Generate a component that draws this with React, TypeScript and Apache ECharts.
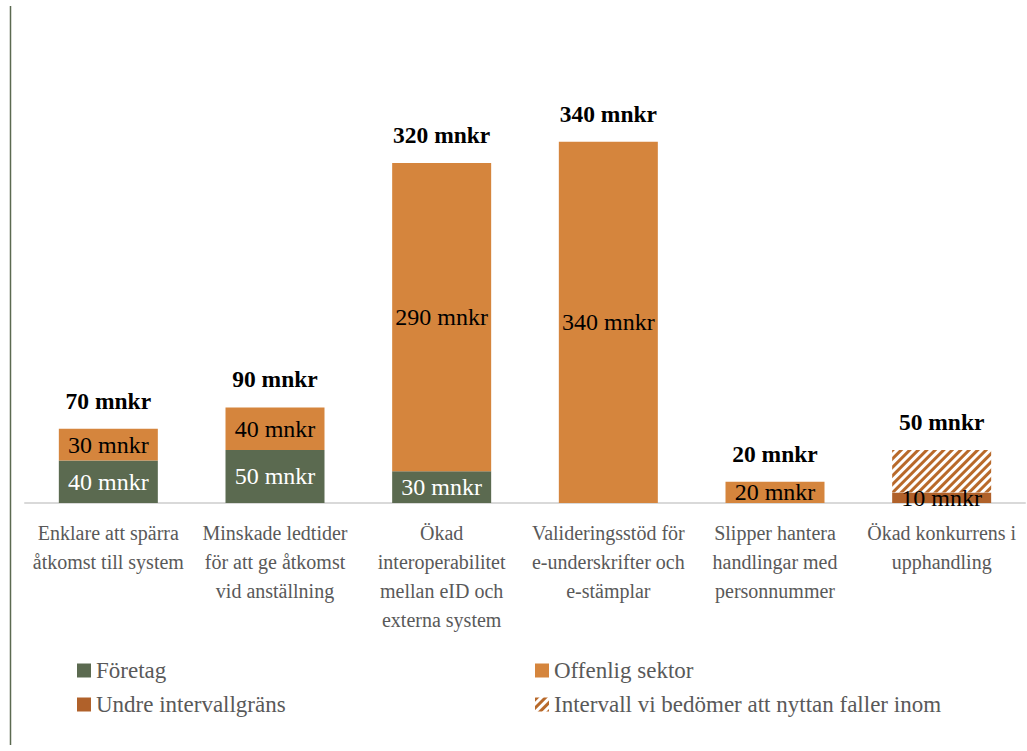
import React, { useEffect, useRef } from "react";
import * as echarts from "echarts";

const categories = [
  "Enklare att spärra\nåtkomst till system",
  "Minskade ledtider\nför att ge åtkomst\nvid anställning",
  "Ökad\ninteroperabilitet\nmellan eID och\nexterna system",
  "Valideringsstöd för\ne-underskrifter och\ne-stämplar",
  "Slipper hantera\nhandlingar med\npersonnummer",
  "Ökad konkurrens i\nupphandling",
];
const foretag: (number | string)[] = [40, 50, 30, "-", "-", "-"];
const offentlig: (number | string)[] = [30, 40, 290, 340, 20, "-"];
const undre: (number | string)[] = ["-", "-", "-", "-", "-", 10];
const intervall: (number | string)[] = ["-", "-", "-", "-", "-", 40];
const totals = [70, 90, 320, 340, 20, 50];

const FONT = "'Liberation Serif', 'Times New Roman', serif";
const GREEN = "#5B6A50";
const ORANGE = "#D5853D";
const DARK = "#B0612A";

export default function App() {
  const ref = useRef<HTMLDivElement>(null);
  useEffect(() => {
    const chart = echarts.init(ref.current!, null, { renderer: "svg" });
    const inside = (color: string) => ({
      show: true,
      position: "inside" as const,
      color,
      fontFamily: FONT,
      fontSize: 24,
      formatter: (p: any) => `${p.value} mnkr`,
    });
    const legendCommon = {
      orient: "vertical" as const,
      top: 654,
      itemWidth: 14,
      itemHeight: 14,
      itemGap: 11,
      icon: "rect",
      textStyle: { color: "#595959", fontFamily: FONT, fontSize: 23 },
    };
    chart.setOption({
      animation: false,
      backgroundColor: "#fff",
      textStyle: { fontFamily: FONT },
      grid: { left: 25, right: 2, top: 78, bottom: 248 },
      xAxis: {
        type: "category",
        data: categories,
        axisLine: { lineStyle: { color: "#D9D9D9", width: 2 } },
        axisTick: { show: false },
        axisLabel: {
          interval: 0,
          color: "#595959",
          fontFamily: FONT,
          fontSize: 20,
          lineHeight: 29,
          margin: 15,
        },
      },
      yAxis: { type: "value", min: 0, max: 400, show: false, splitLine: { show: false } },
      legend: [
        { ...legendCommon, data: ["Företag", "Undre intervallgräns"], left: 72 },
        {
          ...legendCommon,
          data: ["Offenlig sektor", "Intervall vi bedömer att nyttan faller inom"],
          left: 530,
        },
      ],
      graphic: [
        {
          type: "line",
          shape: { x1: 10.5, y1: 6, x2: 10.5, y2: 745 },
          style: { stroke: GREEN, lineWidth: 1.5 },
        },
      ],
      series: [
        {
          name: "Företag",
          type: "bar",
          stack: "s",
          barWidth: 99,
          data: foretag,
          itemStyle: { color: GREEN },
          label: inside("#ffffff"),
        },
        {
          name: "Offenlig sektor",
          type: "bar",
          stack: "s",
          data: offentlig,
          itemStyle: { color: ORANGE },
          label: inside("#000000"),
        },
        {
          name: "Undre intervallgräns",
          type: "bar",
          stack: "s",
          data: undre,
          itemStyle: { color: DARK },
          label: inside("#000000"),
        },
        {
          name: "Intervall vi bedömer att nyttan faller inom",
          type: "bar",
          stack: "s",
          data: intervall,
          itemStyle: {
            color: "#ffffff",
            decal: {
              symbol: "rect",
              symbolSize: 1,
              dashArrayX: [1, 0],
              dashArrayY: [2.5, 2.5],
              rotation: -Math.PI / 4,
              color: "#B8692A",
              backgroundColor: "#ffffff",
            },
          },
        },
        {
          name: "Total",
          type: "bar",
          stack: "s",
          data: totals.map(() => 0),
          itemStyle: { color: "transparent" },
          label: {
            show: true,
            position: "top",
            distance: 16,
            color: "#000",
            fontFamily: FONT,
            fontSize: 23.5,
            fontWeight: "bold",
            formatter: (p: any) => `${totals[p.dataIndex]} mnkr`,
          },
        },
      ],
    });
    return () => chart.dispose();
  }, []);
  return (
    <div
      ref={ref}
      style={{ position: "fixed", left: 0, top: 0, width: 1027, height: 751 }}
    />
  );
}
